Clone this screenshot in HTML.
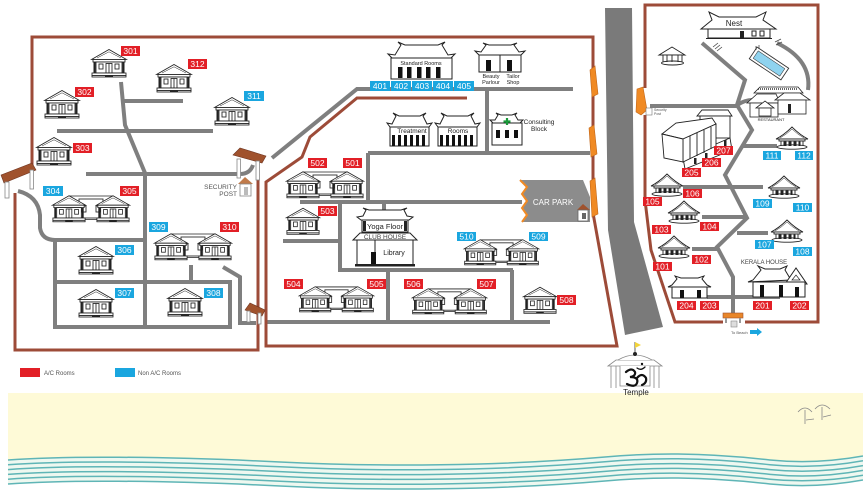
<!DOCTYPE html>
<html><head><meta charset="utf-8"><style>
html,body{margin:0;padding:0;background:#fff}
svg{display:block}
.l{font:8.5px "Liberation Sans",sans-serif;fill:#fff;text-anchor:middle}
.t{font-family:"Liberation Sans",sans-serif;fill:#222;text-anchor:middle}
</style></head><body>
<svg width="863" height="500" viewBox="0 0 863 500" xmlns="http://www.w3.org/2000/svg">
<defs>
<symbol id="b" viewBox="0 0 38 31">
<g stroke="#222" stroke-width="0.85" fill="#fff">
<path d="M1.5 11.5 L19 1.5 L36.5 11.5 Z"/>
<path d="M7 10 L19 3.8 L31 10" fill="none" stroke-width=".5"/>
<rect x="3" y="11.5" width="32" height="2.5"/>
<rect x="6" y="14" width="26" height="11"/>
<rect x="9" y="16" width="4" height="5"/>
<rect x="25" y="16" width="4" height="5"/>
<rect x="16" y="15.5" width="6" height="9.5"/>
<line x1="19" y1="15.5" x2="19" y2="25"/>
<rect x="2" y="25" width="34" height="2.5"/>
<rect x="2" y="27.5" width="34" height="1.5"/>
</g>
<rect x="3.5" y="14" width="2" height="11" fill="#222"/>
<rect x="32.5" y="14" width="2" height="11" fill="#222"/>
<rect x="15" y="27.6" width="8" height="1.3" fill="#222"/>
</symbol>
<symbol id="d" viewBox="0 0 80 30">
<g stroke="#222" fill="#fff" stroke-width="0.85">
<rect x="28" y="5" width="24" height="19"/>
<line x1="18" y1="2" x2="62" y2="2"/>
<rect x="31" y="12" width="4" height="6"/>
<rect x="45" y="12" width="4" height="6"/>
<line x1="26" y1="25.5" x2="54" y2="25.5"/>
</g>
<use href="#b" x="0" y="0" width="36" height="30"/>
<use href="#b" x="44" y="0" width="36" height="30"/>
</symbol>
<symbol id="h" viewBox="0 0 34 24">
<g stroke="#222" stroke-width="0.9" fill="#fff">
<path d="M1 13 Q9 9 17 1 Q25 9 33 13 Z"/>
<path d="M5 12 Q12 8 17 3 Q22 8 29 12" fill="none" stroke-width=".5"/>
<rect x="4" y="13" width="26" height="2"/>
<rect x="6" y="15" width="22" height="5"/>
<ellipse cx="17" cy="21" rx="15" ry="2.2"/>
</g>
<g fill="#222"><rect x="8.5" y="15.5" width="3" height="4.5"/><rect x="13.5" y="15.5" width="3" height="4.5"/><rect x="18.5" y="15.5" width="3" height="4.5"/><rect x="23.5" y="15.5" width="2" height="4.5"/></g>
</symbol>
</defs>

<!-- beach -->
<path d="M8,393 H863 V456 C830,462 800,463 770,460 C700,452 650,453 605,457 C500,466 380,467 280,462 C160,456 60,456 8,460 Z" fill="#fefad7"/>
<path d="M8,460 C60,456 160,456 280,462 C380,467 500,466 605,457 C650,453 700,452 770,460 C800,463 830,462 863,456 V480 C830,486 800,487 770,484 C700,476 650,477 605,481 C500,490 380,491 280,486 C160,480 60,480 8,484 Z" fill="#eef8f0"/>
<g fill="none" stroke="#5fb5b6" stroke-width="1.5">
<path id="w" d="M8,460 C60,456 160,456 280,462 C380,467 500,466 605,457 C650,453 700,452 770,460 C800,463 830,462 863,456"/>
<use href="#w" y="4.8"/><use href="#w" y="9.6"/><use href="#w" y="14.4"/><use href="#w" y="19.2"/><use href="#w" y="24"/>
</g>
<!-- umbrellas -->
<g stroke="#888" stroke-width=".8" fill="none">
<path d="M798,412 Q805,404 812,412"/><line x1="805" y1="410" x2="805" y2="424"/><line x1="806" y1="420" x2="814" y2="419"/>
<path d="M815,409 Q822,401 830,409"/><line x1="822" y1="407" x2="822" y2="420"/><line x1="823" y1="417" x2="831" y2="415"/>
</g>

<!-- big gray road -->
<polygon points="605,8 632,8 634,222 663,327 625,335 608,230" fill="#7a7a7a"/>

<!-- roads -->
<g fill="none" stroke="#7f7f7f" stroke-width="4">
<path d="M121,82 L125,125 L145,173 V327"/>
<path d="M123,101 H183"/>
<path d="M57,131 H213"/>
<path d="M86,174 H240 Q250,174 253,165"/>
<path d="M18,191 Q38,196 40,215 V228 Q42,240 55,240 H143"/>
<path d="M55,240 V327 H230 V282 H55"/>
<path d="M191,265 V282"/>
<path d="M223,267 L240,277 V323 H256"/>
<path d="M272,158 L357,89 H573"/>
<path d="M487,89 V153"/>
<path d="M368,153 H590"/>
<path d="M368,153 V202"/>
<path d="M300,202 H522"/>
<path d="M384,202 V210"/>
<path d="M340,202 V270 H513"/>
<path d="M283,241 H340"/>
<path d="M388,270 V322"/>
<path d="M512,270 V322"/>
<path d="M267,322 H550"/>
<path d="M702,43 L745,80 L737,105"/>
<path d="M650,106 H737"/>
<path d="M737,105 L752,130 L725,175 L747,218 L717,247 L733,277 V317"/>
<path d="M737,105 Q745,100 752,100"/>
<path d="M743,146 H777"/>
<path d="M683,187 H763"/>
<path d="M702,217 H747"/>
<path d="M737,233 H768"/>
<path d="M692,249 H717"/>
<path d="M707,297 H780"/>
<path d="M777,43 Q812,60 808,90"/>
</g>
<g stroke="#444" stroke-width=".8"><path d="M713,47 l5,-4 M715,49 l5,-4 M717,51 l5,-4 M775,42 l6,-3 M776,45 l6,-3"/></g>

<!-- borders -->
<g fill="none" stroke="#9d4b38" stroke-width="3">
<path d="M32,165 V37 H593 V213 L617,346 H266 V182 L302,157 L310,137 L357,98 H467"/>
<path d="M258,178 V350 H15 V193"/>
<path d="M645,88 V5 H818 V322 H745"/>
<path d="M723,322 H675 L651,250 L645,200 V115"/>
</g>

<!-- car park -->
<polygon points="520,180 583,180 590,197 590,222 522,222 527,215 522,208 527,201 522,194 527,187" fill="#8c8c8c"/>
<polyline points="520,180 527,187 522,194 527,201 522,208 527,215 522,222" fill="none" stroke="#f08a24" stroke-width="2"/>
<text x="553" y="205" style="font:8px 'Liberation Sans',sans-serif;fill:#fff" text-anchor="middle">CAR PARK</text>
<polygon points="577,210 583,204 590,210" fill="#a0522d"/><rect x="578" y="210" width="10" height="11" fill="#fff" stroke="#666" stroke-width=".8"/><rect x="582" y="213" width="4" height="6" fill="#666"/>

<!-- orange gates -->
<g fill="#f08a24" stroke="#c0661a" stroke-width=".6">
<polygon points="590,70 595,66 598,94 592,97"/>
<polygon points="589,128 594,125 597,154 591,157"/>
<polygon points="590,181 595,178 598,214 592,217"/>
<polygon points="637,89 643,87 647,110 641,115 636,112"/>
</g>
<rect x="646" y="108" width="6" height="7" fill="#fff" stroke="#777" stroke-width=".6"/>
<text x="654" y="111" style="font:3.5px 'Liberation Sans',sans-serif;fill:#555">Security</text>
<text x="654" y="115" style="font:3.5px 'Liberation Sans',sans-serif;fill:#555">Post</text>

<!-- brown gates -->
<g fill="#a0522d" stroke="#6e3420" stroke-width=".6">
<polygon points="1,175 32,163 36,170 4,183"/>
<polygon points="233,155 240,148 266,156 262,163"/>
<polygon points="245,310 250,303 265,310 262,316"/>
</g>
<g fill="#fff" stroke="#888" stroke-width=".8">
<rect x="5" y="182" width="4" height="16"/><rect x="30" y="170" width="3.5" height="19"/>
<rect x="237" y="159" width="3.5" height="19"/><rect x="256" y="161" width="3.5" height="19"/>
<rect x="247" y="311" width="3" height="11"/><rect x="258" y="313" width="3" height="11"/>
</g>
<!-- security post -->
<polygon points="238,184 245,177 253,184" fill="#c07a4a"/>
<rect x="240" y="184" width="11" height="12" fill="#fff" stroke="#888" stroke-width=".8"/><rect x="244" y="187" width="4" height="8" fill="#bbb"/>
<text x="237" y="189" style="font:6.5px 'Liberation Sans',sans-serif;fill:#555" text-anchor="end">SECURITY</text>
<text x="237" y="196" style="font:6.5px 'Liberation Sans',sans-serif;fill:#555" text-anchor="end">POST</text>

<!-- bottom right gate -->
<rect x="723" y="313" width="20" height="5" fill="#e8862a" stroke="#a0522d" stroke-width=".6"/>
<rect x="725" y="318" width="2" height="5" fill="#999"/><rect x="739" y="318" width="2" height="5" fill="#999"/>
<rect x="731" y="321" width="6" height="6" fill="#ddd" stroke="#888" stroke-width=".6"/>
<text x="731" y="334" style="font:4px 'Liberation Sans',sans-serif;fill:#555">To Beach</text>
<polygon points="750,330 757,330 757,328 762,332 757,336 757,334 750,334" fill="#1aa6df"/>

<!-- houses left -->
<use href="#b" x="90" y="48" width="38" height="31"/>
<use href="#b" x="155" y="63" width="38" height="31"/>
<use href="#b" x="43" y="89" width="38" height="31"/>
<use href="#b" x="213" y="96" width="38" height="31"/>
<use href="#b" x="35" y="136" width="38" height="31"/>
<use href="#d" x="50" y="194" width="82" height="30"/>
<use href="#d" x="152" y="232" width="82" height="30"/>
<use href="#b" x="77" y="245" width="38" height="31"/>
<use href="#b" x="77" y="288" width="38" height="31"/>
<use href="#b" x="166" y="287" width="38" height="31"/>
<!-- middle -->
<use href="#d" x="285" y="170" width="80" height="30"/>
<use href="#b" x="285" y="206" width="36" height="31"/>
<use href="#d" x="462" y="238" width="79" height="29"/>
<use href="#d" x="297" y="285" width="79" height="29"/>
<use href="#d" x="410" y="287" width="79" height="29"/>
<use href="#b" x="522" y="285" width="36" height="31"/>

<!-- Standard rooms -->
<g stroke="#222" fill="#fff" stroke-width="1">
<path d="M388,54 L392,58 H451 L455,54 L448,55 L442,45 L445,42 L438,45 H405 L398,42 L401,45 L395,55 Z"/>
<rect x="391" y="58" width="61" height="21"/>
<path d="M475,51 L479,55 H521 L525,51 L519,52 L514,45 L517,43 L511,45 H489 L483,43 L486,45 L481,52 Z"/>
<rect x="479" y="55" width="42" height="17"/><line x1="500" y1="55" x2="500" y2="72"/>
<path d="M387,123 L390,127 H429 L432,123 L427,124 L423,116 L426,113 L420,116 H399 L393,113 L396,116 L392,124 Z"/>
<rect x="390" y="127" width="39" height="19"/>
<path d="M435,123 L438,127 H477 L480,123 L475,124 L471,116 L474,113 L468,116 H447 L441,113 L444,116 L440,124 Z"/>
<rect x="438" y="127" width="39" height="19"/>
<path d="M490,120 L493,123 H520 L523,120 L518,120 L515,115 L517,113 L512,115 H501 L496,113 L498,115 L495,120 Z"/>
<rect x="492" y="123" width="30" height="22"/>
</g>
<g fill="#111">
<rect x="398" y="67" width="4.5" height="11"/><rect x="407" y="67" width="4.5" height="11"/><rect x="417" y="67" width="4.5" height="11"/><rect x="426" y="67" width="4.5" height="11"/><rect x="436" y="67" width="4.5" height="11"/>
<rect x="486" y="60" width="5" height="11"/><rect x="507" y="60" width="5" height="11"/>
<rect x="392" y="135" width="3" height="11"/><rect x="398" y="135" width="3" height="11"/><rect x="404" y="135" width="3" height="11"/><rect x="410" y="135" width="3" height="11"/><rect x="416" y="135" width="3" height="11"/><rect x="422" y="135" width="3" height="11"/>
<rect x="440" y="135" width="3" height="11"/><rect x="446" y="135" width="3" height="11"/><rect x="452" y="135" width="3" height="11"/><rect x="458" y="135" width="3" height="11"/><rect x="464" y="135" width="3" height="11"/><rect x="470" y="135" width="3" height="11"/>
<rect x="496" y="130" width="4" height="8"/><rect x="505" y="130" width="4" height="8"/><rect x="514" y="130" width="4" height="8"/>
</g>
<path d="M507,118 V125 M503.5,121.5 H510.5" stroke="#1a9a3a" stroke-width="2.2"/>
<text class="t" x="421" y="65" style="font-size:5.5px">Standard Rooms</text>
<text class="t" x="491" y="78" style="font-size:5.5px">Beauty</text><text class="t" x="491" y="84" style="font-size:5.5px">Parlour</text>
<text class="t" x="513" y="78" style="font-size:5.5px">Tailor</text><text class="t" x="513" y="84" style="font-size:5.5px">Shop</text>
<text class="t" x="412" y="133" style="font-size:6.5px">Treatment</text>
<text class="t" x="458" y="133" style="font-size:6.5px">Rooms</text>
<text class="t" x="539" y="124" style="font-size:6.5px">Consulting</text>
<text class="t" x="539" y="131" style="font-size:6.5px">Block</text>

<!-- Club house -->
<g stroke="#222" fill="#fff" stroke-width="1">
<path d="M357,217 L361,220 H409 L413,217 L407,216 L404,210 L407,208 L401,210 H369 L363,208 L366,210 L363,216 Z"/>
<rect x="362" y="220" width="46" height="12"/>
<path d="M353,240 L360,233 H410 L417,240 Z"/>
<rect x="357" y="240" width="56" height="25"/>
<line x1="375" y1="240" x2="375" y2="265"/>
</g>
<rect x="363" y="221" width="3" height="10" fill="#222"/><rect x="404" y="221" width="3" height="10" fill="#222"/>
<rect x="371" y="252" width="5" height="12" fill="#111"/>
<rect x="355" y="264" width="60" height="2.5" fill="#222"/>
<text class="t" x="385" y="229" style="font-size:7.5px">Yoga Floor</text>
<text class="t" x="385" y="239" style="font-size:6.5px;fill:#444">CLUB HOUSE</text>
<text class="t" x="394" y="255" style="font-size:7px">Library</text>

<!-- Nest -->
<g stroke="#222" fill="#fff" stroke-width="1">
<path d="M701,29 L712,20 L709,12 L719,17 H756 L766,12 L763,20 L776,29 Z"/>
<rect x="708" y="29" width="62" height="9"/>
<line x1="706" y1="38.5" x2="772" y2="38.5"/>
<rect x="752" y="31" width="4" height="5"/><rect x="760" y="31" width="4" height="5"/>
</g>
<rect x="740" y="31" width="4" height="7" fill="#222"/>
<text class="t" x="734" y="26" style="font-size:8px">Nest</text>
<!-- gazebo -->
<g stroke="#222" fill="#fff" stroke-width=".9">
<path d="M659,55 L672,47 L685,55 Z"/>
<rect x="663" y="55" width="19" height="7"/>
<ellipse cx="672.5" cy="63" rx="11" ry="2"/>
<path d="M667,55 V62 M672,55 V62 M678,55 V62"/>
</g>
<!-- pool -->
<g transform="translate(769,63.5) rotate(33.7)">
<rect x="-19" y="-7" width="38" height="14" fill="#fff" stroke="#333" stroke-width=".9"/>
<rect x="-16" y="-4.5" width="32" height="9" fill="#8fd3ef" stroke="#333" stroke-width=".5"/>
</g>
<path d="M756,50 v-4 M759,49 v-4" stroke="#333" stroke-width=".7"/>
<!-- restaurant -->
<g stroke="#222" fill="#fff" stroke-width=".8">
<path d="M754,93 L760,87 H798 L803,93 Z"/>
<path d="M747,103 L757,94 H776 L780,103 Z"/>
<rect x="750" y="103" width="28" height="14"/>
<path d="M775,100 L784,93 H800 L810,100 Z"/>
<rect x="778" y="100" width="28" height="14"/>
<path d="M756,108 L765,101 L774,108 Z"/>
<rect x="759" y="108" width="12" height="8"/>
</g>
<line x1="758" y1="89" x2="798" y2="89" stroke="#333" stroke-width="1.5" stroke-dasharray="1,1"/>
<rect x="788" y="104" width="3" height="9" fill="#222"/>
<text class="t" x="771" y="121" style="font-size:4px">RESTAURANT</text>
<!-- big building -->
<g stroke="#222" fill="#fff" stroke-width=".9">
<path d="M697,116 L702,110 H728 L732,116 Z"/>
<rect x="700" y="116" width="30" height="22"/>
<path d="M683,158 L730,138 L732,150 L685,169 Z"/>
<path d="M662,134 L676,123 L712,118 L716,124 L683,139 Z"/>
<path d="M683,139 L716,124 V146 L683,162 Z"/>
<path d="M662,134 L683,139 V162 L664,158 Z"/>
<path d="M690,136 V159 M697,133 V156 M704,130 V153 M711,127 V149"/>
</g>
<g fill="#222"><rect x="694" y="158" width="2.5" height="6"/><rect x="705" y="153" width="2.5" height="6"/><rect x="716" y="149" width="2.5" height="6"/><rect x="724" y="140" width="2.5" height="6"/></g>
<!-- huts -->
<use href="#h" x="775" y="126" width="34" height="24"/>
<use href="#h" x="650" y="173" width="34" height="24"/>
<use href="#h" x="767" y="175" width="34" height="24"/>
<use href="#h" x="667" y="200" width="34" height="24"/>
<use href="#h" x="770" y="219" width="34" height="24"/>
<use href="#h" x="657" y="235" width="34" height="24"/>
<!-- Kerala house -->
<g stroke="#222" fill="#fff" stroke-width="1">
<path d="M748,282 L753,280 L761,270 L758,266 L765,269 H780 L787,266 L785,270 L791,280 Z"/>
<path d="M785,284 L796,268 L807,284 Z"/>
<rect x="753" y="282" width="52" height="15"/>
<path d="M668,287 L672,285 L677,279 L675,276 L681,278 H698 L704,276 L702,279 L707,285 L711,287 Z"/>
<rect x="672" y="287" width="35" height="11"/>
</g>
<path d="M792,280 L796,275 L800,280 Z" fill="none" stroke="#222" stroke-width=".7"/>
<g fill="#111"><rect x="760" y="285" width="4" height="12"/><rect x="779" y="285" width="4" height="12"/><rect x="795" y="287" width="4" height="10"/><rect x="680" y="290" width="4" height="8"/><rect x="697" y="290" width="4" height="8"/></g>
<text class="t" x="764" y="264" style="font-size:6px;fill:#444">KERALA HOUSE</text>

<!-- temple -->
<g stroke="#888" fill="#fff" stroke-width=".8">
<path d="M608,366 L616,360 H654 L662,366 Z"/>
<path d="M618,360 Q635,350 652,360"/>
<path d="M611,366 V388 M616,366 V388 M654,366 V388 M659,366 V388"/>
<path d="M620,366 V386 H650 V366"/>
</g>
<line x1="635" y1="342" x2="635" y2="354" stroke="#333" stroke-width=".8"/>
<polygon points="635,342 641,345 635,348" fill="#f2d43a"/>
<circle cx="635" cy="354" r="2" fill="#222"/>
<g fill="none" stroke="#111" stroke-width="2.2" stroke-linecap="round">
<path d="M626,372 q6,-5 9,0 q1,4 -5,5 q9,0 7,6 q-2,5 -10,1"/>
<path d="M637,378 q5,-6 9,0 q1,5 -4,7"/>
<path d="M637,368 q4,3 8,-1" stroke-width="1.3"/>
</g>
<circle cx="642" cy="364" r="1.2" fill="#111"/>
<text class="t" x="636" y="395" style="font-size:8px">Temple</text>

<!-- legend -->
<rect x="20" y="368" width="20" height="9" fill="#e21f26"/>
<text x="44" y="375" style="font:6px 'Liberation Sans',sans-serif;fill:#555">A/C Rooms</text>
<rect x="115" y="368" width="20" height="9" fill="#1aa6df"/>
<text x="138" y="375" style="font:6px 'Liberation Sans',sans-serif;fill:#555">Non A/C Rooms</text>

<!-- labels red -->
<g fill="#e21f26">
<rect x="121" y="46" width="19" height="10"/><rect x="188" y="59" width="19" height="10"/><rect x="75" y="87" width="19" height="10"/><rect x="73" y="143" width="19" height="10"/><rect x="120" y="186" width="19" height="10"/><rect x="220" y="222" width="19" height="10"/>
<rect x="308" y="158" width="19" height="10"/><rect x="343" y="158" width="19" height="10"/><rect x="318" y="206" width="19" height="10"/><rect x="284" y="279" width="19" height="10"/><rect x="367" y="279" width="19" height="10"/><rect x="404" y="279" width="19" height="10"/><rect x="477" y="279" width="19" height="10"/><rect x="557" y="295" width="19" height="10"/>
<rect x="714" y="146" width="19" height="9"/><rect x="702" y="158" width="19" height="9"/><rect x="682" y="168" width="19" height="9"/><rect x="683" y="189" width="19" height="9"/><rect x="643" y="197" width="19" height="9"/><rect x="700" y="222" width="19" height="9"/><rect x="652" y="225" width="19" height="9"/><rect x="692" y="255" width="19" height="9"/><rect x="653" y="262" width="19" height="9"/>
<rect x="677" y="301" width="19" height="9"/><rect x="700" y="301" width="19" height="9"/><rect x="753" y="301" width="19" height="9"/><rect x="790" y="301" width="19" height="9"/>
</g>
<g fill="#1aa6df">
<rect x="244" y="91" width="20" height="10"/><rect x="43" y="186" width="20" height="10"/><rect x="115" y="245" width="19" height="10"/><rect x="149" y="222" width="19" height="10"/><rect x="115" y="288" width="19" height="10"/><rect x="204" y="288" width="19" height="10"/>
<rect x="370" y="81" width="20" height="10"/><rect x="391" y="81" width="20" height="10"/><rect x="412" y="81" width="20" height="10"/><rect x="433" y="81" width="20" height="10"/><rect x="454" y="81" width="20" height="10"/>
<rect x="457" y="232" width="19" height="9"/><rect x="529" y="232" width="19" height="9"/>
<rect x="763" y="151" width="18" height="9"/><rect x="795" y="151" width="18" height="9"/><rect x="753" y="199" width="19" height="9"/><rect x="793" y="203" width="19" height="9"/><rect x="755" y="240" width="19" height="9"/><rect x="793" y="247" width="19" height="9"/>
</g>
<g class="l">
<text x="130.5" y="54">301</text><text x="197.5" y="67">312</text><text x="84.5" y="95">302</text><text x="82.5" y="151">303</text><text x="129.5" y="194">305</text><text x="229.5" y="230">310</text>
<text x="317.5" y="166">502</text><text x="352.5" y="166">501</text><text x="327.5" y="214">503</text><text x="293.5" y="287">504</text><text x="376.5" y="287">505</text><text x="413.5" y="287">506</text><text x="486.5" y="287">507</text><text x="566.5" y="303">508</text>
<text x="723.5" y="153.5">207</text><text x="711.5" y="165.5">206</text><text x="691.5" y="175.5">205</text><text x="692.5" y="196.5">106</text><text x="652.5" y="204.5">105</text><text x="709.5" y="229.5">104</text><text x="661.5" y="232.5">103</text><text x="701.5" y="262.5">102</text><text x="662.5" y="269.5">101</text>
<text x="686.5" y="308.5">204</text><text x="709.5" y="308.5">203</text><text x="762.5" y="308.5">201</text><text x="799.5" y="308.5">202</text>
<text x="254" y="99">311</text><text x="53" y="194">304</text><text x="124.5" y="253">306</text><text x="158.5" y="230">309</text><text x="124.5" y="296">307</text><text x="213.5" y="296">308</text>
<text x="380" y="89">401</text><text x="401" y="89">402</text><text x="422" y="89">403</text><text x="443" y="89">404</text><text x="464" y="89">405</text>
<text x="466.5" y="239.5">510</text><text x="538.5" y="239.5">509</text>
<text x="772" y="158.5">111</text><text x="804" y="158.5">112</text><text x="762.5" y="206.5">109</text><text x="802.5" y="210.5">110</text><text x="764.5" y="247.5">107</text><text x="802.5" y="254.5">108</text>
</g>
</svg>
</body></html>
